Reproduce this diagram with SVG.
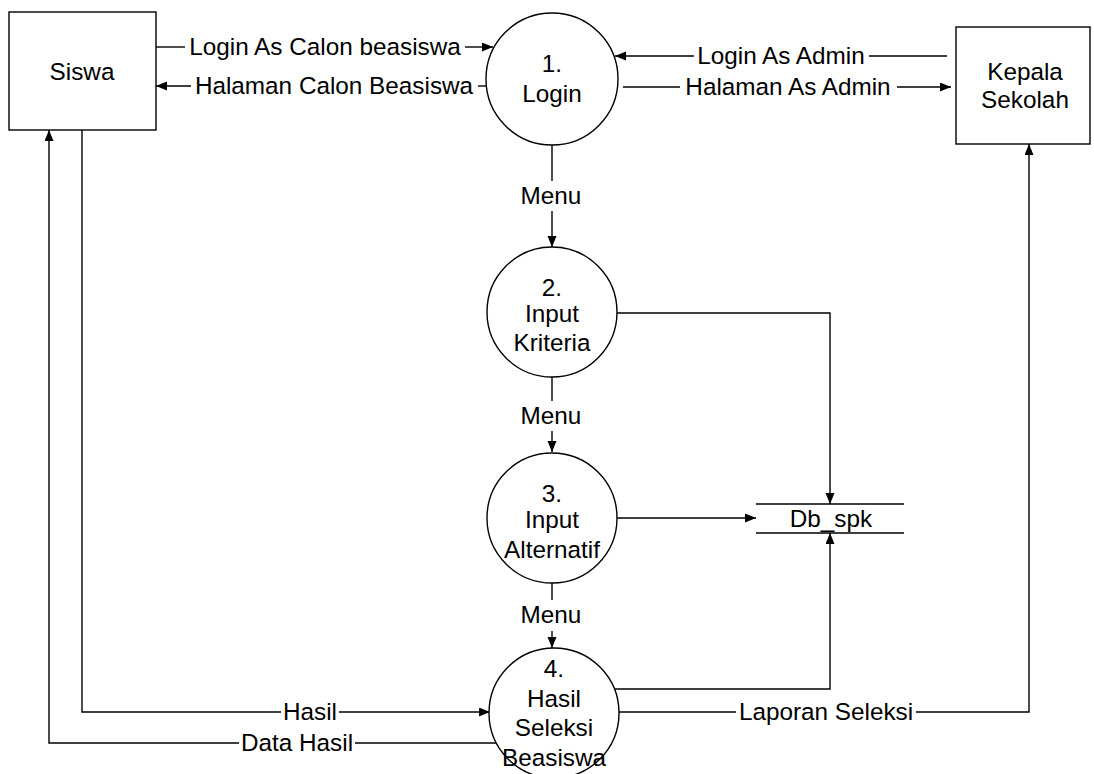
<svg xmlns="http://www.w3.org/2000/svg" width="1094" height="774" viewBox="0 0 1094 774">
  <style>
    .shape { fill: #ffffff; stroke: #000000; stroke-width: 1.4; }
    .flow { fill: none; stroke: #000000; stroke-width: 1.4; }
    .store { stroke: #000000; stroke-width: 1.4; }
    text { font-family: "Liberation Sans", Arial, sans-serif; font-size: 24.3px; fill: #000000; text-anchor: middle; }
  </style>
  <defs>
    <marker id="arrow" markerUnits="userSpaceOnUse" markerWidth="12" markerHeight="10" refX="11" refY="4.5" orient="auto">
      <path d="M0,0 L11,4.5 L0,9 z" fill="#000000"/>
    </marker>
  </defs>

  <rect width="1094" height="774" fill="#ffffff"/>

  <!-- data flows; each line is broken where its label sits -->
  <g id="connectors">
    <path class="flow" d="M156,47 H185"/>
    <path class="flow" d="M465,47 H493" marker-end="url(#arrow)"/>
    <text x="325" y="55">Login As Calon beasiswa</text>

    <path class="flow" d="M486,86 H478"/>
    <path class="flow" d="M191,86 H156" marker-end="url(#arrow)"/>
    <text x="334" y="94">Halaman Calon Beasiswa</text>

    <path class="flow" d="M947,56 H869"/>
    <path class="flow" d="M694,56 H615" marker-end="url(#arrow)"/>
    <text x="781" y="64">Login As Admin</text>

    <path class="flow" d="M623,87 H680"/>
    <path class="flow" d="M897,87 H951" marker-end="url(#arrow)"/>
    <text x="788" y="95">Halaman As Admin</text>

    <path class="flow" d="M552,145 V181"/>
    <path class="flow" d="M552,211 V247" marker-end="url(#arrow)"/>
    <text x="551" y="204">Menu</text>

    <path class="flow" d="M552,377 V401"/>
    <path class="flow" d="M552,431 V452" marker-end="url(#arrow)"/>
    <text x="551" y="424">Menu</text>

    <path class="flow" d="M552,583 V600"/>
    <path class="flow" d="M552,631 V648" marker-end="url(#arrow)"/>
    <text x="551" y="623">Menu</text>

    <path class="flow" d="M616,313 H830 V504" marker-end="url(#arrow)"/>
    <path class="flow" d="M616,518 H756" marker-end="url(#arrow)"/>
    <path class="flow" d="M615,689 H830 V533" marker-end="url(#arrow)"/>

    <path class="flow" d="M82,130 V712 H281"/>
    <path class="flow" d="M339,712 H490" marker-end="url(#arrow)"/>
    <text x="310" y="720">Hasil</text>

    <path class="flow" d="M496,743 H355"/>
    <path class="flow" d="M239,743 H49 V130" marker-end="url(#arrow)"/>
    <text x="297" y="751">Data Hasil</text>

    <path class="flow" d="M619,712 H736"/>
    <path class="flow" d="M916,712 H1029 V144" marker-end="url(#arrow)"/>
    <text x="826" y="720">Laporan Seleksi</text>
  </g>

  <!-- external entities -->
  <g id="siswa">
    <rect class="shape" x="9" y="12" width="147" height="118"/>
    <text x="82" y="80">Siswa</text>
  </g>

  <g id="kepala-sekolah">
    <rect class="shape" x="956" y="27" width="134" height="117"/>
    <text x="1025" y="80">Kepala</text>
    <text x="1025" y="108">Sekolah</text>
  </g>

  <!-- processes -->
  <g id="p1-login">
    <circle class="shape" cx="552" cy="79" r="66"/>
    <text x="552" y="72">1.</text>
    <text x="552" y="102">Login</text>
  </g>

  <g id="p2-input-kriteria">
    <circle class="shape" cx="552" cy="312" r="65"/>
    <text x="552" y="296">2.</text>
    <text x="552" y="322">Input</text>
    <text x="552" y="351">Kriteria</text>
  </g>

  <g id="p3-input-alternatif">
    <circle class="shape" cx="552" cy="518" r="65"/>
    <text x="552" y="502">3.</text>
    <text x="552" y="528">Input</text>
    <text x="552" y="558">Alternatif</text>
  </g>

  <g id="p4-hasil-seleksi">
    <circle class="shape" cx="554" cy="713" r="65"/>
    <text x="554" y="677">4.</text>
    <text x="554" y="707">Hasil</text>
    <text x="554" y="736">Seleksi</text>
    <text x="554" y="766">Beasiswa</text>
  </g>

  <!-- data store -->
  <g id="db-spk">
    <line class="store" x1="756" y1="504" x2="904" y2="504"/>
    <line class="store" x1="756" y1="533" x2="904" y2="533"/>
    <text x="831" y="527">Db_spk</text>
  </g>
</svg>
